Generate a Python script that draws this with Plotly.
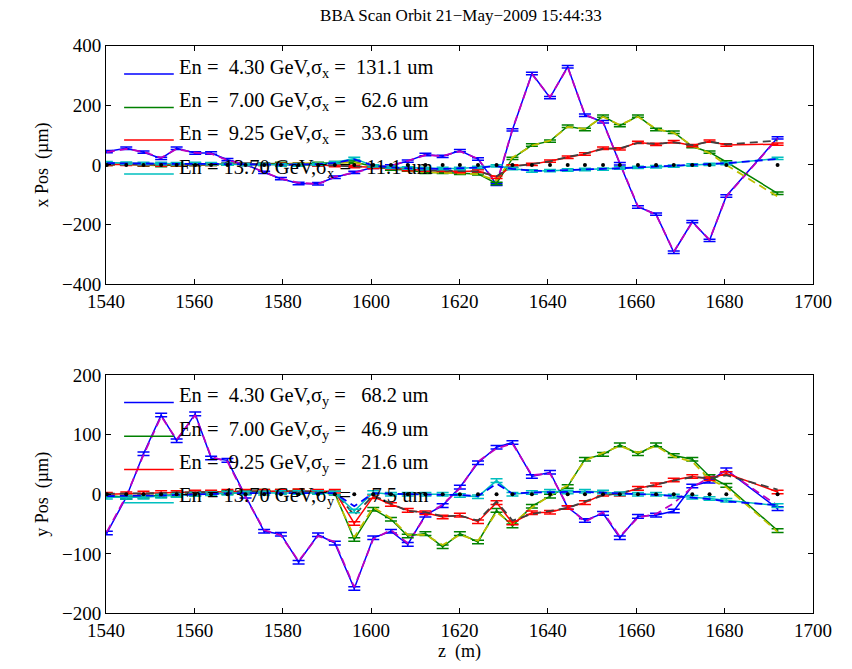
import plotly.graph_objects as go

# ---------------- data ----------------
Z = [1540.2, 1544.6, 1548.5, 1552.5, 1556.0, 1560.2, 1563.8, 1567.5, 1571.6, 1575.8,
     1579.6, 1583.6, 1588.0, 1591.8, 1596.2, 1600.5, 1604.5, 1608.3, 1612.3, 1616.2,
     1620.1, 1624.2, 1628.4, 1632.0, 1636.4, 1640.5, 1644.5, 1648.4, 1652.5, 1656.3,
     1660.4, 1664.5, 1668.5, 1672.7, 1676.6, 1680.4, 1692.0]

energies = [4.30, 7.00, 9.25, 13.70]
sigma_x = [131.1, 62.6, 33.6, 11.1]
sigma_y = [68.2, 46.9, 21.6, 7.5]

# horizontal orbit (um), measured and fit
x_430 = [45, 56, 43, 22, 56, 40, 40, 18, 2, -25, -46, -62, -63, -41, -25, -8, -3, 13, 35, 29, 48, 20,
         -65, 118, 307, 226, 330, 167, 145, 4, -141, -165, -293, -190, -253, -104, 91]
x_430_fit = [43, 54, 44, 24, 54, 41, 38, 16, 1, -23, -46, -60, -64, -40, -26, -9, -2, 14, 33, 30, 46, 21,
             -63, 120, 305, 228, 328, 169, 143, 6, -139, -167, -291, -192, -251, -106, 89]
x_700 = [2, 3, 0, -2, 0, 1, 2, 3, 2, 3, 5, 3, 5, 8, 10, -5, -14, -17, -25, -25, -28, -30,
         -62, 22, 67, 80, 130, 119, 164, 132, 164, 119, 110, 62, 43, 10, -95]
x_700_fit = [0, 2, 1, -3, -1, 0, 1, 2, 3, 4, 4, 4, 6, 7, 8, -6, -13, -18, -24, -26, -27, -31,
             -52, 25, 65, 82, 128, 121, 162, 134, 162, 121, 108, 64, 40, 0, -106]
x_925 = [2, 2, 1, 0, 1, 2, 2, 3, 3, 2, 2, 1, 0, -2, -5, -8, -10, -15, -17, -18, -22, -20,
         -41, -3, 2, 13, 26, 37, 56, 54, 76, 69, 78, 65, 80, 67, 70]
x_925_fit = [1, 2, 2, 1, 1, 1, 2, 2, 3, 3, 2, 1, 0, -3, -5, -7, -11, -14, -18, -19, -21, -22,
             -38, -5, 3, 12, 27, 38, 54, 56, 74, 71, 76, 67, 78, 69, 82]
x_1370 = [8, 6, 5, 5, 4, 5, 4, 3, 2, 2, 0, 0, 2, 8, 22, -3, -8, -10, -12, -12, -12, -8,
          -3, -12, -20, -19, -17, -15, -14, -10, -8, -6, -4, 0, 2, 5, 22]
x_1370_fit = [6, 5, 5, 4, 4, 4, 4, 3, 3, 2, 1, 1, 3, 7, 19, -2, -8, -11, -12, -13, -11, -9,
              -4, -13, -19, -20, -17, -16, -13, -11, -8, -5, -3, 0, 3, 6, 20]

# vertical orbit (um), measured and fit
y_430 = [-65, -5, 68, 133, 90, 135, 61, 57, -3, -62, -67, -114, -68, -82, -158, -73, -62, -84, -35, -19,
         12, 53, 79, 87, 30, 37, -22, -44, -32, -73, -37, -35, -28, 14, 22, 41, -24]
y_430_fit = [-63, -3, 66, 131, 92, 133, 63, 55, -5, -60, -69, -112, -70, -80, -156, -75, -60, -82, -37, -17,
             10, 55, 77, 85, 32, 35, -20, -46, -30, -71, -39, -33, -15, 12, 28, 40, -19]
y_700 = [-2, -5, -3, -2, 0, 0, 2, 3, 4, 5, 5, 5, 4, 2, -76, -25, -42, -70, -66, -88,
         -66, -80, -27, -53, -20, -3, 13, 59, 67, 83, 68, 83, 65, 59, 30, 15, -61]
y_700_fit = [-3, -4, -2, -1, 1, 1, 3, 4, 5, 6, 5, 4, 3, 0, -72, -22, -40, -68, -68, -85,
             -68, -78, -30, -50, -22, -2, 15, 57, 69, 81, 70, 81, 63, 55, 25, 12, -63]
y_925 = [0, 1, 2, 3, 3, 4, 4, 5, 5, 5, 5, 6, 5, 5, -49, -4, -17, -27, -31, -38,
         -35, -46, -14, -48, -31, -30, -22, -14, 0, 0, 10, 16, 24, 30, 26, 35, 4]
y_925_fit = [1, 1, 2, 2, 3, 3, 4, 4, 5, 5, 6, 5, 5, 4, -35, -2, -15, -28, -30, -37,
             -36, -44, -12, -44, -33, -28, -23, -12, -2, 2, 9, 17, 23, 29, 27, 32, 8]
y_1370 = [-5, -5, -5, -3, -2, 0, 1, 2, 2, 2, 3, 3, 3, 2, -28, 3, 0, 0, 0, 0,
          -2, -4, 23, 0, 3, 5, 4, 5, 4, 1, 0, 0, -3, -5, -7, -10, -19]
y_1370_fit = [-3, -3, -3, -2, -1, 0, 1, 1, 2, 2, 2, 3, 3, 2, -20, 2, 1, 0, 0, -1,
              -1, -3, 18, 1, 3, 4, 4, 4, 3, 2, 1, -1, -3, -6, -8, -12, -18]

# BPM reference markers (at zero)
bpm_ref = [0, 0, 0, 0, 0, 0, 0, 0, 0, 0, 0, 0, 0, 0, 0, 0, 0, 0, 0, 0,
           0, 0, 0, 0, 0, 0, 0, 0, 0, 0, 0, 0, 0, 0, 0, 0, 0]

err_x = 4
err_y = 3

meas_colors = ["#0000FF", "#008000", "#FF0000", "#00BFBF"]
fit_colors = ["#BF00BF", "#BFBF00", "#404040", "#0000FF"]

FONT = "Liberation Serif, Times New Roman, serif"
W, H = 852, 669

fig = go.Figure()

def add_plane(meas, fits, err, xa, ya):
    for m, f, mc, fc in zip(meas, fits, meas_colors, fit_colors):
        fig.add_trace(go.Scatter(
            x=Z, y=m, mode="lines", xaxis=xa, yaxis=ya, showlegend=False,
            line=dict(color=mc, width=1.5),
            error_y=dict(type="constant", value=err, color=mc, thickness=1.5, width=6)))
        fig.add_trace(go.Scatter(
            x=Z, y=f, mode="lines", xaxis=xa, yaxis=ya, showlegend=False,
            line=dict(color=fc, width=1.8, dash="8px,5px")))
    fig.add_trace(go.Scatter(
        x=Z, y=bpm_ref, mode="markers", xaxis=xa, yaxis=ya, showlegend=False,
        marker=dict(color="black", size=4)))

add_plane([x_430, x_700, x_925, x_1370], [x_430_fit, x_700_fit, x_925_fit, x_1370_fit], err_x, "x", "y")
add_plane([y_430, y_700, y_925, y_1370], [y_430_fit, y_700_fit, y_925_fit, y_1370_fit], err_y, "x2", "y2")

def fmt(s):
    return s.replace(" ", "\u00a0")

def add_legend(sigmas, plane, row_px):
    for e, s, c, py in zip(energies, sigmas, meas_colors, row_px):
        fig.add_shape(type="line", xref="paper", yref="paper",
                      x0=110 / W, x1=162 / W, y0=1 - py / H, y1=1 - py / H,
                      line=dict(color=c, width=1.5))
        txt = fmt("En = %5.2f GeV," % e) + "σ<sub>%s</sub>" % plane + fmt(" = %6.1f um" % s)
        fig.add_annotation(xref="paper", yref="paper", x=166 / W, y=1 - (py - 6) / H, text=txt,
                           showarrow=False, xanchor="left", yanchor="middle", borderpad=0,
                           font=dict(family=FONT, size=20.5, color="black"))

add_legend(sigma_x, "x", [66, 100.7, 134.3, 169.3])
add_legend(sigma_y, "y", [405.3, 440, 474.3, 508.7])

axis_common = dict(showline=True, linecolor="black", linewidth=1, mirror="ticks",
                   ticks="inside", ticklen=5, tickcolor="black", showgrid=False, zeroline=False,
                   tickfont=dict(family=FONT, size=19, color="black"))

fig.update_layout(
    width=W, height=H,
    margin=dict(l=0, r=0, t=0, b=0),
    paper_bgcolor="white", plot_bgcolor="white",
    title=dict(text="BBA Scan Orbit 21\u2212May\u22122009 15:44:33", x=0.541, y=1 - 15 / H,
               xanchor="center", yanchor="middle", font=dict(family=FONT, size=17, color="black")),
    xaxis=dict(domain=[91 / W, 831 / W], anchor="y", range=[1540, 1700],
               tickvals=[1540, 1560, 1580, 1600, 1620, 1640, 1660, 1680, 1700], **axis_common),
    yaxis=dict(domain=[1 - 283 / H, 1 - 37 / H], anchor="x", range=[-400, 400],
               tickvals=[-400, -200, 0, 200, 400],
               title=dict(text="x Pos  (µm)", font=dict(family=FONT, size=18, color="black"), standoff=8),
               **axis_common),
    xaxis2=dict(domain=[91 / W, 831 / W], anchor="y2", range=[1540, 1700],
                tickvals=[1540, 1560, 1580, 1600, 1620, 1640, 1660, 1680, 1700],
                title=dict(text="z  (m)", font=dict(family=FONT, size=18, color="black"), standoff=4),
                **axis_common),
    yaxis2=dict(domain=[1 - 623 / H, 1 - 377 / H], anchor="x2", range=[-200, 200],
                tickvals=[-200, -100, 0, 100, 200],
                title=dict(text="y Pos  (µm)", font=dict(family=FONT, size=18, color="black"), standoff=8),
                **axis_common),
)

fig.write_html("out.html", post_script="document.body.style.margin='0px';")
